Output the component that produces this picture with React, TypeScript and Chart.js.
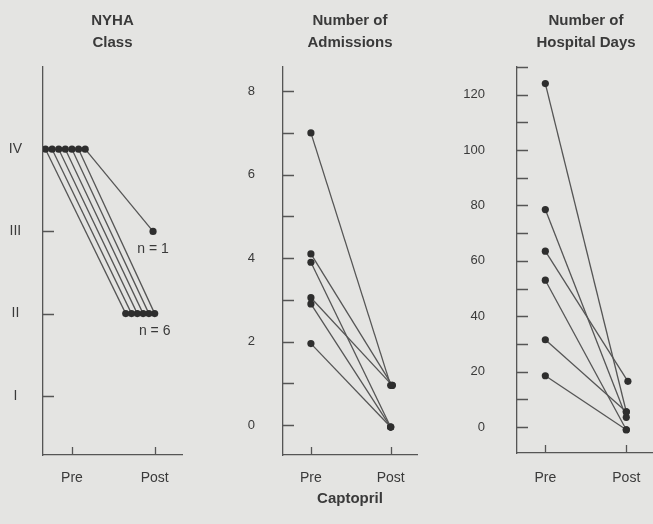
import React, { useEffect, useRef } from 'react';
import { Chart, registerables } from 'chart.js';

Chart.register(...registerables);

// ---------- data ----------
const xTickValues = [1, 2];
const xTickLabels = ['Pre', 'Post'];

// NYHA class (each patient one line, slight horizontal offsets as in the original)
const nyhaTickValues = [1, 2, 3, 4];
const nyhaTickLabels = ['I', 'II', 'III', 'IV'];
const nyhaPre = [4, 4, 4, 4, 4, 4, 4];
const nyhaPost = [2, 2, 2, 2, 2, 2, 3];
const nyhaPreX = [0.68, 0.76, 0.84, 0.92, 1.0, 1.08, 1.16];
const nyhaPostX = [1.65, 1.72, 1.79, 1.86, 1.93, 2.0, 1.98];
const nyhaNotes = ['n = 1', 'n = 6'];
const nyhaNoteX = [1.98, 2.0];
const nyhaNoteY = [3, 2];

// Number of admissions
const admTickValues = [0, 1, 2, 3, 4, 5, 6, 7, 8];
const admTickLabels = ['0', '', '2', '', '4', '', '6', '', '8'];
const admPre = [7, 4.1, 3.9, 3.05, 2.9, 1.95];
const admPost = [0.95, 0.95, -0.05, 0.95, -0.05, -0.05];
const admPreX = [1, 1, 1, 1, 1, 1];
const admPostX = [2, 2.02, 2, 2.02, 2, 2];

// Number of hospital days
const daysTickValues = [0, 10, 20, 30, 40, 50, 60, 70, 80, 90, 100, 110, 120, 130];
const daysTickLabels = ['0', '', '20', '', '40', '', '60', '', '80', '', '100', '', '120', ''];
const daysPre = [124, 78.5, 63.5, 53, 31.5, 18.5];
const daysPost = [5.5, 3.5, 16.5, -1, 5.5, -1];
const daysPreX = [1, 1, 1, 1, 1, 1];
const daysPostX = [2, 2, 2.02, 2, 2, 2];

// ---------- style ----------
const FONT = '"Liberation Sans", Arial, Helvetica, sans-serif';
const BG = '#e4e4e2';
const INK = '#3a3a3a';
const LINE = '#555555';
const DOT = '#2e2e2e';

const insideTicks = {
  id: 'insideTicks',
  beforeDatasetsDraw(chart: any, _a: any, opts: any) {
    const { ctx, chartArea } = chart;
    const xs = chart.scales.x;
    const ys = chart.scales.y;
    ctx.save();
    ctx.strokeStyle = LINE;
    ctx.lineWidth = 1.3;
    ctx.beginPath();
    ys.ticks.forEach((t: any) => {
      const py = Math.round(ys.getPixelForValue(t.value)) + 0.5;
      ctx.moveTo(chartArea.left, py);
      ctx.lineTo(chartArea.left + opts.yLen, py);
    });
    xs.ticks.forEach((t: any) => {
      const px = Math.round(xs.getPixelForValue(t.value)) + 0.5;
      ctx.moveTo(px, chartArea.bottom);
      ctx.lineTo(px, chartArea.bottom - opts.xLen);
    });
    ctx.stroke();
    ctx.restore();
  },
};

const panelTitle = {
  id: 'panelTitle',
  afterDraw(chart: any, _a: any, opts: any) {
    const { ctx, chartArea } = chart;
    ctx.save();
    ctx.font = `bold 15px ${FONT}`;
    ctx.fillStyle = INK;
    ctx.textAlign = 'center';
    ctx.textBaseline = 'middle';
    const cx = (opts.cx !== undefined ? opts.cx : (chartArea.left + chartArea.right) / 2);
    (opts.lines || []).forEach((l: string, i: number) => ctx.fillText(l, cx, opts.y0 + i * opts.gap));
    ctx.restore();
  },
};

const noteLabels = {
  id: 'noteLabels',
  afterDatasetsDraw(chart: any, _a: any, opts: any) {
    const texts: string[] = opts.texts || [];
    if (!texts.length) return;
    const { ctx } = chart;
    const xs = chart.scales.x;
    const ys = chart.scales.y;
    ctx.save();
    ctx.font = `14px ${FONT}`;
    ctx.fillStyle = INK;
    ctx.textAlign = 'center';
    ctx.textBaseline = 'middle';
    texts.forEach((t, i) => {
      ctx.fillText(t, xs.getPixelForValue(opts.xs[i]), ys.getPixelForValue(opts.ys[i]) + opts.dy);
    });
    ctx.restore();
  },
};

interface Panel {
  width: number;
  yWidth: number;
  padRight: number;
  xHeight: number;
  yMin: number;
  yMax: number;
  yTicks: number[];
  yLabels: string[];
  yFont: number;
  yPad: number;
  yCross: string;
  xPad: number;
  pre: number[];
  post: number[];
  preX: number[];
  postX: number[];
  title: string[];
  titleCx?: number;
  notes?: string[];
  noteX?: number[];
  noteY?: number[];
  xTitle?: string;
}

function makeConfig(p: Panel): any {
  return {
    type: 'scatter',
    data: {
      datasets: p.pre.map((v, i) => ({
        data: [
          { x: p.preX[i], y: v },
          { x: p.postX[i], y: p.post[i] },
        ],
        showLine: true,
        borderColor: LINE,
        borderWidth: 1.3,
        pointRadius: 3.6,
        pointBackgroundColor: DOT,
        pointBorderColor: DOT,
        pointBorderWidth: 0,
      })),
    },
    options: {
      animation: false,
      responsive: false,
      maintainAspectRatio: false,
      layout: { padding: { top: 67, right: p.padRight, bottom: 0, left: 0 } },
      plugins: {
        legend: { display: false },
        tooltip: { enabled: false },
        title: { display: false },
        panelTitle: { lines: p.title, y0: 21, gap: 22, cx: p.titleCx },
        insideTicks: { yLen: 11, xLen: 8 },
        noteLabels: { texts: p.notes || [], xs: p.noteX || [], ys: p.noteY || [], dy: 18 },
      },
      scales: {
        x: {
          type: 'linear',
          min: 0.65,
          max: 2.33,
          afterBuildTicks: (s: any) => {
            s.ticks = xTickValues.map((v) => ({ value: v }));
          },
          afterFit: (s: any) => {
            s.height = p.xHeight;
            s.paddingLeft = 0;
            s.paddingRight = 0;
          },
          ticks: {
            callback: (v: number) => {
              const i = xTickValues.indexOf(v);
              return i >= 0 ? xTickLabels[i] : '';
            },
            font: { family: FONT, size: 14 },
            color: INK,
            padding: p.xPad,
            maxRotation: 0,
            autoSkip: false,
          },
          grid: { display: false },
          border: { display: true, color: LINE, width: 1.3 },
          title: p.xTitle
            ? {
                display: true,
                text: p.xTitle,
                color: INK,
                font: { family: FONT, size: 15, weight: 'bold' },
                padding: { top: 0, bottom: 16 },
              }
            : { display: false },
        },
        y: {
          type: 'linear',
          min: p.yMin,
          max: p.yMax,
          afterBuildTicks: (s: any) => {
            s.ticks = p.yTicks.map((v) => ({ value: v }));
          },
          afterFit: (s: any) => {
            s.width = p.yWidth;
            s.paddingTop = 0;
            s.paddingBottom = 0;
          },
          ticks: {
            callback: (v: number) => {
              const i = p.yTicks.indexOf(v);
              return i >= 0 ? p.yLabels[i] : '';
            },
            font: { family: FONT, size: p.yFont },
            color: INK,
            padding: p.yPad,
            crossAlign: p.yCross,
            autoSkip: false,
          },
          grid: { display: false },
          border: { display: true, color: LINE, width: 1.3 },
        },
      },
    },
    plugins: [insideTicks, panelTitle, noteLabels],
  };
}

const panels: Panel[] = [
  {
    width: 215,
    yWidth: 43,
    padRight: 33,
    xHeight: 69,
    yMin: 0.28,
    yMax: 5.0,
    yTicks: nyhaTickValues,
    yLabels: nyhaTickLabels,
    yFont: 14,
    yPad: 13,
    yCross: 'center',
    xPad: 7,
    pre: nyhaPre,
    post: nyhaPost,
    preX: nyhaPreX,
    postX: nyhaPostX,
    title: ['NYHA', 'Class'],
    notes: nyhaNotes,
    noteX: nyhaNoteX,
    noteY: nyhaNoteY,
  },
  {
    width: 220,
    yWidth: 68,
    padRight: 18,
    xHeight: 69,
    yMin: -0.72,
    yMax: 8.58,
    yTicks: admTickValues,
    yLabels: admTickLabels,
    yFont: 13,
    yPad: 20,
    yCross: 'near',
    xPad: 7,
    pre: admPre,
    post: admPost,
    preX: admPreX,
    postX: admPostX,
    title: ['Number of', 'Admissions'],
    xTitle: 'Captopril',
  },
  {
    width: 222,
    yWidth: 82,
    padRight: 0,
    xHeight: 71,
    yMin: -9.4,
    yMax: 130,
    yTicks: daysTickValues,
    yLabels: daysTickLabels,
    yFont: 13,
    yPad: 24,
    yCross: 'near',
    xPad: 9,
    pre: daysPre,
    post: daysPost,
    preX: daysPreX,
    postX: daysPostX,
    title: ['Number of', 'Hospital Days'],
    titleCx: 151,
  },
];

const lefts = [0, 215, 435];

function PanelChart({ p, left }: { p: Panel; left: number }) {
  const ref = useRef<HTMLCanvasElement | null>(null);
  useEffect(() => {
    if (!ref.current) return;
    const chart = new Chart(ref.current, makeConfig(p));
    return () => chart.destroy();
  }, [p]);
  return (
    <canvas
      ref={ref}
      width={p.width}
      height={524}
      style={{ position: 'absolute', left, top: 0, width: p.width, height: 524 }}
    />
  );
}

export default function App() {
  return (
    <div
      style={{
        position: 'absolute',
        left: 0,
        top: 0,
        width: 653,
        height: 524,
        background: BG,
        overflow: 'hidden',
      }}
    >
      {panels.map((p, i) => (
        <PanelChart key={i} p={p} left={lefts[i]} />
      ))}
    </div>
  );
}
